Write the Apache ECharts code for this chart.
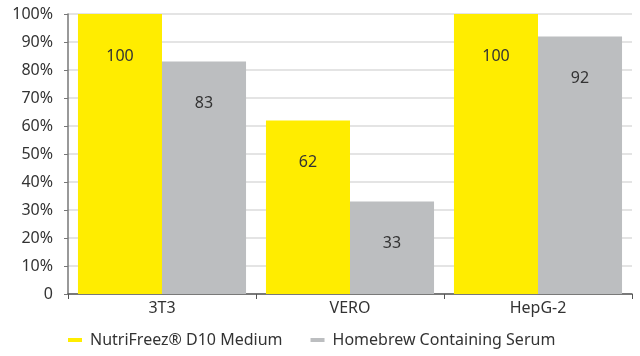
<!DOCTYPE html>
<html>
<head>
<meta charset="utf-8">
<script src="https://cdn.jsdelivr.net/npm/echarts@6/dist/echarts.min.js"></script>
<style>
  html, body { margin: 0; padding: 0; background: #fff; }
  #chart { width: 640px; height: 356px; }
</style>
</head>
<body>
<div id="chart"></div>
<script>
// 细胞系
var categories = ['3T3', 'VERO', 'HepG-2'];
var nutriFreez = [100, 62, 100];
var homebrew = [83, 33, 92];
var seriesNames = ['NutriFreez® D10 Medium', 'Homebrew Containing Serum'];

var font = 'Noto Sans';
var labelStyle = {
  show: true,
  position: 'insideTop',
  distance: 34,
  color: '#333',
  fontSize: 16,
  fontFamily: font
};

var myChart = echarts.init(document.getElementById('chart'));
myChart.setOption({
  animation: false,
  textStyle: { fontFamily: font },
  grid: { left: 68, right: 8, top: 14, bottom: 62 },
  legend: {
    bottom: 3,
    left: 63,
    itemWidth: 14,
    itemHeight: 4,
    itemGap: 28,
    icon: 'rect',
    textStyle: { fontSize: 16, color: '#333', fontFamily: font, padding: [0, 0, 0, 3] },
    data: seriesNames
  },
  xAxis: {
    type: 'category',
    data: categories,
    axisLine: { lineStyle: { color: '#555', width: 1.5 } },
    axisTick: { show: true, length: 5, lineStyle: { color: '#555' } },
    axisLabel: { fontSize: 16, color: '#333', margin: 6 },
    splitLine: { show: false }
  },
  yAxis: {
    type: 'value',
    min: 0,
    max: 100,
    interval: 10,
    axisLine: { show: true, lineStyle: { color: '#777', width: 1.5 } },
    axisTick: { show: true, length: 4, lineStyle: { color: '#777' } },
    axisLabel: {
      fontSize: 16,
      color: '#333',
      margin: 15,
      formatter: function (v) { return v === 0 ? '0' : v + '%'; }
    },
    splitLine: { show: true, lineStyle: { color: '#e4e4e4', width: 2 } }
  },
  series: [
    {
      name: seriesNames[0],
      type: 'bar',
      data: nutriFreez,
      barGap: '0%',
      barCategoryGap: '10.6%',
      itemStyle: { color: '#FFED00' },
      label: labelStyle
    },
    {
      name: seriesNames[1],
      type: 'bar',
      data: homebrew,
      itemStyle: { color: '#BCBEC0' },
      label: labelStyle
    }
  ]
});
</script>
</body>
</html>
